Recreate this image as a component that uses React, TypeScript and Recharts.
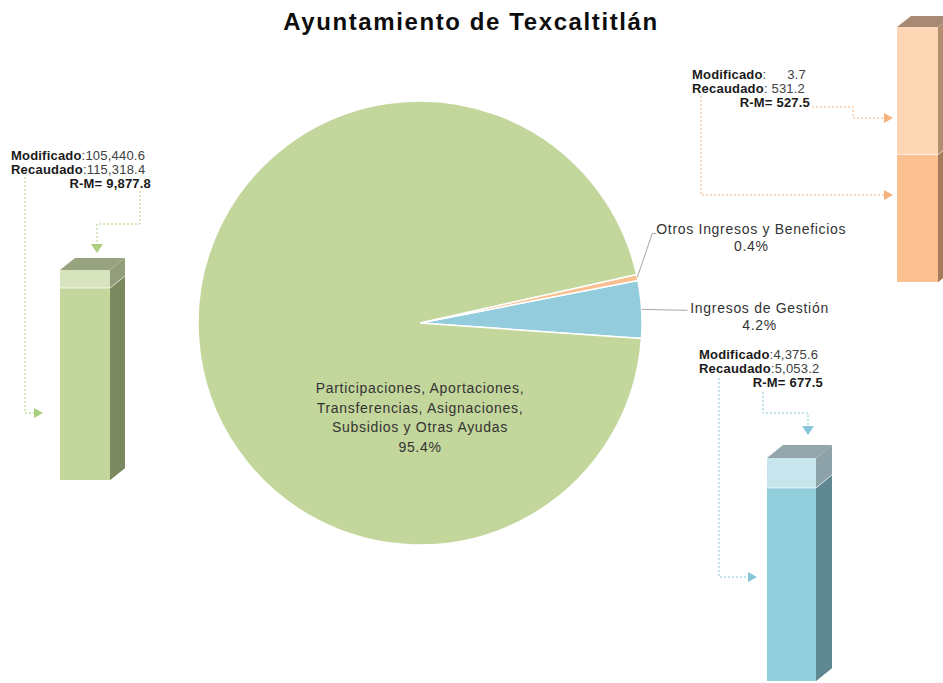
import React from "react";
import { PieChart, Pie, Cell, BarChart, Bar, XAxis, YAxis } from "recharts";

// Order follows the pie, counter-clockwise from 3 o'clock
const categories = [
  "Ingresos de Gestión",
  "Otros Ingresos y Beneficios",
  "Participaciones, Aportaciones,\nTransferencias, Asignaciones,\nSubsidios y Otras Ayudas",
];
const modificado = [4375.6, 3.7, 105440.6];
const recaudado = [5053.2, 531.2, 115318.4];
const diferencia = [677.5, 527.5, 9877.8];

const pieColors = ["#93cddd", "#fabf8f", "#c3d69b"];

const barPalettes = [
  { front: "#92cddc", light: "#c6e5ed", side: "#5f8893", sideLight: "#8da3a9", top: "#93a6ab" },
  { front: "#fac090", light: "#fcd6b5", side: "#a67b5a", sideLight: "#b38d70", top: "#a88a74" },
  { front: "#c3d69b", light: "#d8e4bd", side: "#7c8960", sideLight: "#929d7a", top: "#98a37f" },
];

const FONT = "'Liberation Sans', Arial, sans-serif";
const LOG_MIN = 0.026; // the orange block is drawn on a log axis
const RAD = Math.PI / 180;

const fmt = (v: number) =>
  v.toLocaleString("en-US", { minimumFractionDigits: 1, maximumFractionDigits: 1 });

function Block(props: any) {
  const { x, y, width, height, dx, dy, front, side, top, withTop, seam } = props;
  const r = x + width;
  const b = y + height;
  return (
    <g>
      <rect x={x} y={y} width={width} height={height} fill={front} />
      <polygon points={`${r},${y} ${r + dx},${y - dy} ${r + dx},${b - dy} ${r},${b}`} fill={side} />
      {withTop && (
        <polygon points={`${x},${y} ${x + dx},${y - dy} ${r + dx},${y - dy} ${r},${y}`} fill={top} />
      )}
      {seam && (
        <polyline
          points={`${x},${y} ${r},${y} ${r + dx},${y - dy}`}
          stroke="#ffffff"
          strokeOpacity={0.7}
          fill="none"
        />
      )}
    </g>
  );
}

function MiniBar({ i, left, top, barW, plotH, dx, dy, log }: any) {
  const pal = barPalettes[i];
  const data = [{ name: categories[i], modificado: modificado[i], recaudado: recaudado[i] }];
  const mt = dy + 2;
  const mr = dx + 2;
  // band is 2px wider than the bar so recharts keeps the requested barSize
  return (
    <div style={{ position: "absolute", left: left - 1, top: top - mt }}>
      <BarChart
        width={barW + 2 + mr}
        height={plotH + mt}
        data={data}
        barCategoryGap={0}
        margin={{ top: mt, right: mr, left: 0, bottom: 0 }}
      >
        <XAxis xAxisId="a" dataKey="name" hide />
        <XAxis xAxisId="b" dataKey="name" hide />
        <YAxis
          hide
          type="number"
          scale={log ? "log" : "linear"}
          domain={log ? [LOG_MIN, recaudado[i]] : [0, recaudado[i]]}
        />
        <Bar
          xAxisId="a"
          dataKey="recaudado"
          barSize={barW}
          isAnimationActive={false}
          shape={(p: any) => (
            <Block {...p} dx={dx} dy={dy} front={pal.light} side={pal.sideLight} top={pal.top} withTop />
          )}
        />
        <Bar
          xAxisId="b"
          dataKey="modificado"
          barSize={barW}
          isAnimationActive={false}
          shape={(p: any) => <Block {...p} dx={dx} dy={dy} front={pal.front} side={pal.side} seam />}
        />
      </BarChart>
    </div>
  );
}

const renderPieLabel = (p: any) => {
  const { cx, cy, midAngle, outerRadius, percent, index } = p;
  const pct = (percent * 100).toFixed(1) + "%";
  const txt = { fontFamily: FONT, fontSize: 14, fill: "#333333", letterSpacing: 0.7 };
  if (index === 2) {
    const lines = categories[2].split("\n").concat(pct);
    return (
      <text x={cx} y={cy + 70} textAnchor="middle" {...txt}>
        {lines.map((l, k) => (
          <tspan key={k} x={cx} dy={k ? 19.5 : 0}>
            {l}
          </tspan>
        ))}
      </text>
    );
  }
  const ex = cx + outerRadius * Math.cos(-midAngle * RAD);
  const ey = cy + outerRadius * Math.sin(-midAngle * RAD);
  if (index === 0) {
    const lx = ex + 46;
    const ly = ey + 1;
    return (
      <g>
        <polyline points={`${ex},${ey} ${lx},${ly}`} stroke="#a6a6a6" fill="none" />
        <text x={lx + 72} y={ly + 3} textAnchor="middle" {...txt}>
          {categories[0]}
        </text>
        <text x={lx + 72} y={ly + 20} textAnchor="middle" {...txt}>
          {pct}
        </text>
      </g>
    );
  }
  const kx = ex + 15;
  const ky = ey - 44;
  return (
    <g>
      <polyline points={`${ex},${ey} ${kx},${ky} ${kx + 4},${ky}`} stroke="#a6a6a6" fill="none" />
      <text x={kx + 99} y={ky + 1} textAnchor="middle" {...txt}>
        {categories[1]}
      </text>
      <text x={kx + 99} y={ky + 18} textAnchor="middle" {...txt}>
        {pct}
      </text>
    </g>
  );
};

function Callout({ i, x, y, right, gapValue }: any) {
  const base = { fontFamily: FONT, fontSize: 13, letterSpacing: 0.2 };
  return (
    <g>
      <text x={x} y={y} {...base}>
        <tspan fontWeight="bold" fill="#1a1a1a">Modificado</tspan>
        <tspan fill="#404040">:</tspan>
        {!gapValue && <tspan fill="#404040">{fmt(modificado[i])}</tspan>}
      </text>
      {gapValue && (
        <text x={gapValue} y={y} textAnchor="end" fill="#404040" {...base}>
          {fmt(modificado[i])}
        </text>
      )}
      <text x={x} y={y + 14} {...base}>
        <tspan fontWeight="bold" fill="#1a1a1a">Recaudado</tspan>
        <tspan fill="#404040">{gapValue ? ": " : ":"}{fmt(recaudado[i])}</tspan>
      </text>
      <text x={right} y={y + 28} textAnchor="end" fontWeight="bold" fill="#1a1a1a" {...base}>
        R-M= {fmt(diferencia[i])}
      </text>
    </g>
  );
}

function Arrow({ d, tip, dir, color }: any) {
  const [tx, ty] = tip;
  const head =
    dir === "right"
      ? `${tx},${ty} ${tx - 9},${ty - 5} ${tx - 9},${ty + 5}`
      : `${tx},${ty} ${tx - 6},${ty - 9} ${tx + 6},${ty - 9}`;
  return (
    <g>
      <path d={d} stroke={color} strokeWidth={1} strokeDasharray="2 2" fill="none" />
      <polygon points={head} fill={color} />
    </g>
  );
}

export default function App() {
  const pieData = categories.map((name, k) => ({ name, value: recaudado[k] }));
  const green = "#a9cf7f";
  const orange = "#f5b27c";
  const blue = "#86c6d8";

  return (
    <div
      style={{
        position: "absolute",
        left: 0,
        top: 0,
        width: 943,
        height: 683,
        overflow: "hidden",
        background: "#ffffff",
      }}
    >
      <div style={{ position: "absolute", left: 0, top: 0 }}>
        <PieChart width={943} height={683} margin={{ top: 0, right: 0, bottom: 0, left: 0 }}>
          <Pie
            data={pieData}
            dataKey="value"
            nameKey="name"
            cx={420}
            cy={323}
            outerRadius={222}
            startAngle={-4}
            endAngle={356}
            stroke="#ffffff"
            strokeWidth={1.5}
            label={renderPieLabel}
            labelLine={false}
            isAnimationActive={false}
          >
            {pieData.map((_, k) => (
              <Cell key={k} fill={pieColors[k]} />
            ))}
          </Pie>
        </PieChart>
      </div>

      <MiniBar i={2} left={60} top={270} barW={50} plotH={210} dx={15} dy={12} />
      <MiniBar i={0} left={767} top={458} barW={49} plotH={223} dx={16} dy={13} />
      <MiniBar i={1} left={897} top={27} barW={41} plotH={255} dx={14} dy={11} log />

      <svg
        width={943}
        height={683}
        style={{ position: "absolute", left: 0, top: 0, pointerEvents: "none" }}
      >
        <text
          x={471}
          y={30}
          textAnchor="middle"
          fontFamily={FONT}
          fontSize={24}
          fontWeight="bold"
          letterSpacing={1.6}
          fill="#0d0d0d"
        >
          Ayuntamiento de Texcaltitlán
        </text>

        <Callout i={2} x={11} y={160} right={151} />
        <Arrow d="M25 177 V413 H34" tip={[43, 413]} dir="right" color={green} />
        <Arrow d="M140 191 V224 H97 V244" tip={[97, 253]} dir="down" color={green} />

        <Callout i={1} x={692} y={79} right={810} gapValue={806} />
        <Arrow d="M812 107 H853 V118 H884" tip={[893, 118]} dir="right" color={orange} />
        <Arrow d="M701 96 V195 H884" tip={[893, 195]} dir="right" color={orange} />

        <Callout i={0} x={699} y={359} right={823} />
        <Arrow d="M719 378 V577 H748" tip={[757, 577]} dir="right" color={blue} />
        <Arrow d="M763 392 V413 H808 V426" tip={[808, 435]} dir="down" color={blue} />
      </svg>
    </div>
  );
}
